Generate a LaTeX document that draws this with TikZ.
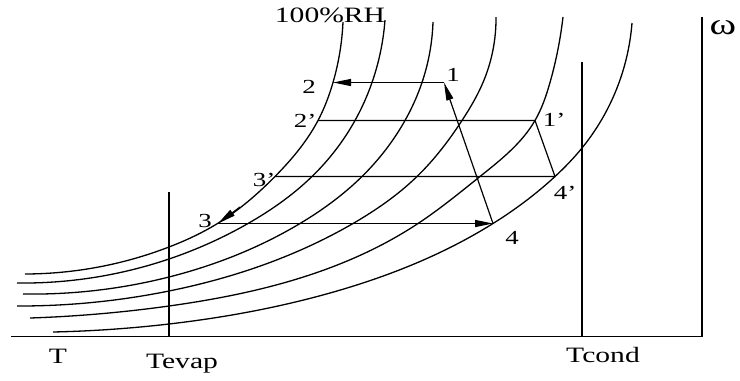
\documentclass[tikz,border=0pt]{standalone}
\usepackage{fontspec}
\setmainfont{Liberation Serif}
\usetikzlibrary{arrows.meta,hobby}
\begin{document}
\begin{tikzpicture}[x=1bp,y=-1bp,
  curve/.style={line width=1.3bp},
  ln/.style={line width=1.2bp},
  axis/.style={line width=1.3bp},
  arr/.style={ln,-{Triangle[length=18bp,width=7bp]}},
  lbl/.style={font=\fontsize{20}{20}\selectfont, xscale=1.35, inner sep=0pt},
  axl/.style={font=\fontsize{22}{22}\selectfont, xscale=1.35, inner sep=0pt}]
\useasboundingbox (0,0) rectangle (740,380);
% axes
\coordinate (o) at (11,336.5);
\coordinate (xe) at (702,336.5);
\coordinate (ye) at (702,17);
\draw[axis] (o) -- (xe) -- (ye);
\coordinate (tev0) at (169,336.5);
\coordinate (tev1) at (169,192);
\coordinate (tco0) at (582,336.5);
\coordinate (tco1) at (582,62);
\draw[axis] (tev0) -- (tev1);
\draw[axis] (tco0) -- (tco1);
% humidity curves
\draw[curve] (25,274) to[curve through={(169,247) (217.5,223.5) (275,176.5) (318,120.5) (333,82.5)}] (343,22);
\draw[curve] (17,283) to[curve through={(169,259) (248,223.5) (312,176.5) (355,120.5) (372,82.5)}] (385,20);
\draw[curve] (23,294) to[curve through={(169,277) (300,223.5) (362,176.5) (405,120.5) (422,82.5)}] (433,22);
\draw[curve] (17,306) to[curve through={(169,291) (353,223.5) (417,176.5) (462,120.5) (483,82.5)}] (496,17);
\draw[curve] (30,318) to[curve through={(169,306) (418,223.5) (480,176.5) (535,120.5) (550,82.5)}] (563,17);
\draw[curve] (53,332) to[curve through={(169,324) (330,293) (493,223.5) (555,176.5) (582,148)}] (632,23);
% state points
\coordinate (p1) at (444,82.5);
\coordinate (p2) at (333,82.5);
\coordinate (p2p) at (318,120.5);
\coordinate (p1p) at (535,120.5);
\coordinate (p3p) at (275,176.5);
\coordinate (p4p) at (555,176.5);
\coordinate (p3) at (218,223.5);
\coordinate (p4) at (493,223.5);
\coordinate (a3) at (240,207);
% process lines
\draw[arr] (p1) -- (p2);
\draw[ln] (p2p) -- (p1p) -- (p4p) -- (p3p);
\draw[arr] (p3) -- (p4);
\draw[arr] (p4) -- (p1);
\draw[arr] (a3) -- (p3);
% labels
\node[axl] (rh) at (330,15) {100\%RH};
\node[lbl] (l2) at (309,87) {2};
\node[lbl] (l2p) at (305,121) {2’};
\node[lbl] (l3p) at (264,180) {3’};
\node[lbl] (l3) at (205,221) {3};
\node[lbl] (l1) at (453,75) {1};
\node[lbl] (l1p) at (554,120) {1’};
\node[lbl] (l4p) at (565,193) {4’};
\node[lbl] (l4) at (512,238) {4};
\node[axl] (lT) at (58,356) {T};
\node[axl,anchor=base] (lTe) at (182,368) {Tevap};
\node[axl,anchor=base] (lTc) at (603,362) {Tcond};
\node[font=\fontsize{30}{30}\selectfont, xscale=1.35, inner sep=0pt] (om) at (723,28) {ω};
\end{tikzpicture}
\end{document}
